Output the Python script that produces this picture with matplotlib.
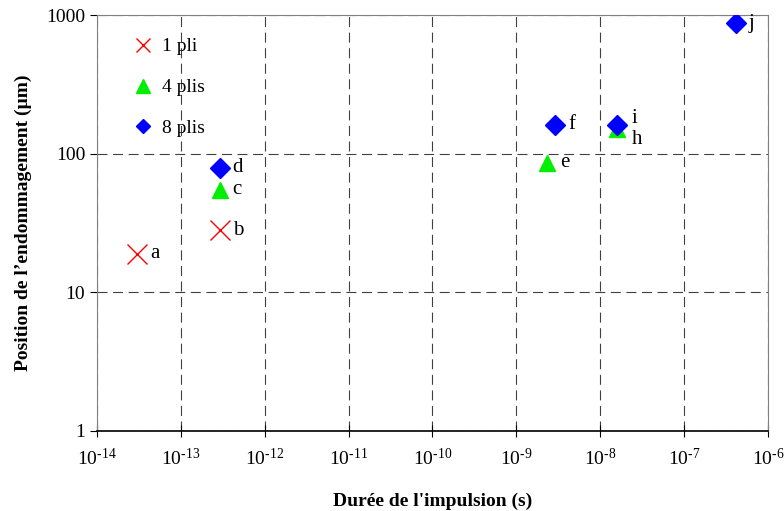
import math

import matplotlib
matplotlib.use("Agg")
import matplotlib.pyplot as plt
from matplotlib.ticker import FixedLocator, FuncFormatter, NullLocator

plt.rcParams["font.family"] = ["Liberation Serif", "DejaVu Serif"]
plt.rcParams["mathtext.fontset"] = "custom"
plt.rcParams["mathtext.rm"] = "Liberation Serif"

# ---- données ----
pli1_x = [3.0e-14, 2.9e-13]
pli1_y = [19.0, 28.0]
pli1_lab = ["a", "b"]

pli4_x = [2.9e-13, 2.3e-9, 1.6e-8]
pli4_y = [55.0, 86.0, 150.0]
pli4_lab = ["c", "e", "h"]

pli8_x = [2.9e-13, 2.9e-9, 1.6e-8, 4.1e-7]
pli8_y = [79.0, 162.0, 162.0, 870.0]
pli8_lab = ["d", "f", "i", "j"]

x_ticks = [1e-14, 1e-13, 1e-12, 1e-11, 1e-10, 1e-9, 1e-8, 1e-7, 1e-6]
y_ticks = [1, 10, 100, 1000]


def fmt_pow(v, pos):
    # tiret simple (et non signe moins) comme sur l'original
    e = round(math.log10(v))
    s = str(e).replace("-", "\u2010")
    return r"$\mathregular{10^{%s}}$" % s


fig = plt.figure(figsize=(7.84, 5.11), dpi=100)
ax = fig.add_axes([0.1237, 0.1566, 0.8559, 0.814])
ax.set_xscale("log")
ax.set_yscale("log")
ax.set_xlim(1e-14, 1e-6)
ax.set_ylim(1, 1000)

ax.plot(pli1_x, pli1_y, ls="none", marker="x", color="red", ms=14, mew=1.0, zorder=3)
ax.plot(pli4_x, pli4_y, ls="none", marker="^", color="#00ee00", ms=11, zorder=3)
ax.plot(pli8_x, pli8_y, ls="none", marker="D", color="blue", ms=10, zorder=4)

# étiquettes des points
offsets = {"h": (14, -10), "i": (14, 6)}
for xs, ys, labs in [(pli1_x, pli1_y, pli1_lab), (pli4_x, pli4_y, pli4_lab),
                     (pli8_x, pli8_y, pli8_lab)]:
    for x, y, t in zip(xs, ys, labs):
        dx, dy = offsets.get(t, (13, 0))
        ax.annotate(t, (x, y), xytext=(dx, dy), textcoords="offset pixels",
                    ha="left", va="center", fontsize=15, zorder=5)

# légende manuelle (sans cadre)
h1, = ax.plot([], [], ls="none", marker="x", color="red", ms=10, mew=1.0)
h2, = ax.plot([], [], ls="none", marker="^", color="#00ee00", ms=10)
h3, = ax.plot([], [], ls="none", marker="D", color="blue", ms=7.5)
ax.legend([h1, h2, h3], ["1 pli", "4 plis", "8 plis"], loc="upper left",
          frameon=False, fontsize=14, labelspacing=1.2, handlelength=1.0,
          handletextpad=0.5, borderaxespad=0.0,
          bbox_to_anchor=(0.0425, 0.964))

ax.xaxis.set_major_locator(FixedLocator(x_ticks))
ax.xaxis.set_minor_locator(NullLocator())
ax.yaxis.set_major_locator(FixedLocator(y_ticks))
ax.yaxis.set_minor_locator(NullLocator())
ax.xaxis.set_major_formatter(FuncFormatter(fmt_pow))
ax.yaxis.set_major_formatter(FuncFormatter(lambda v, p: "%d" % v))

ax.grid(True, which="major", color="#404040", ls=(0, (9, 5)), lw=0.8)
ax.tick_params(axis="x", direction="inout", length=8, labelsize=14, pad=8)
ax.tick_params(axis="y", direction="out", length=5, labelsize=14)
for s in ["left", "right", "top"]:
    ax.spines[s].set_color("#808080")
ax.spines["bottom"].set_color("black")
ax.spines["bottom"].set_linewidth(1.2)

ax.set_xlabel("Durée de l'impulsion (s)", fontsize=14, fontweight="bold", labelpad=17)
ax.set_ylabel("Position de l’endommagement (µm)", fontsize=14, fontweight="bold",
              labelpad=10)

fig.savefig("out.png", dpi=100)
